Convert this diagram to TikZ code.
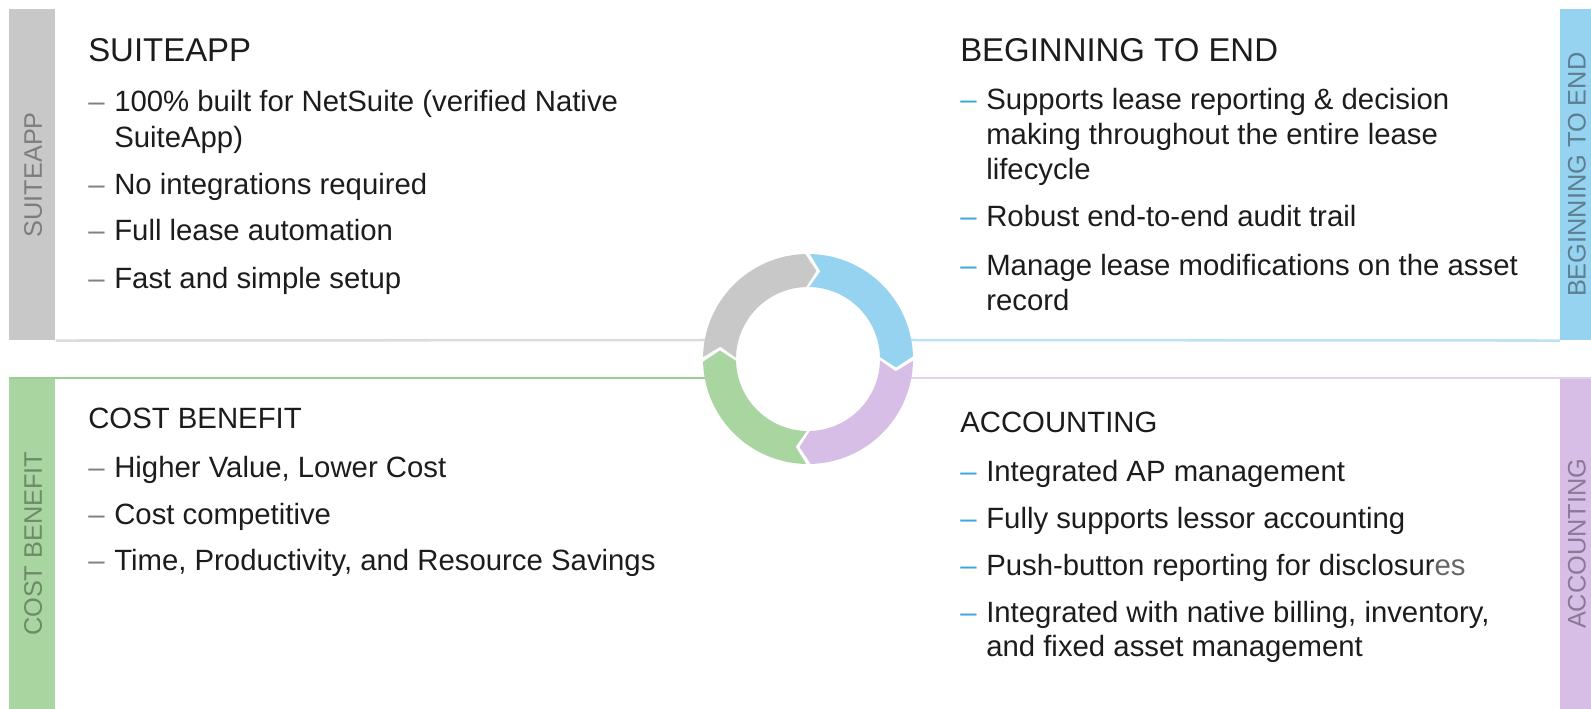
\documentclass[tikz,border=0pt]{standalone}
\usepackage{fontspec}
\setmainfont{Liberation Sans}
\definecolor{cgray}{HTML}{C8C8C8}
\definecolor{cblue}{HTML}{96D3F0}
\definecolor{cgreen}{HTML}{A9D5A1}
\definecolor{cpurple}{HTML}{D7BEE6}
\definecolor{lgray}{HTML}{DCDCDC}
\definecolor{lblue}{HTML}{BEE2F4}
\definecolor{lgreen}{HTML}{9CCD92}
\definecolor{lpurple}{HTML}{E3D1EB}
\definecolor{txt}{HTML}{1C1C1C}
\definecolor{fade}{HTML}{666666}
\definecolor{dashgray}{HTML}{808080}
\definecolor{dashblue}{HTML}{39A6DC}
\definecolor{tgray}{HTML}{7D7D7D}
\definecolor{tblue}{HTML}{5C7F92}
\definecolor{tgreen}{HTML}{6C8C67}
\definecolor{tpurple}{HTML}{8A7A98}
\newcommand{\mylines}[1]{\parbox[t]{560pt}{#1}}
\begin{document}
\begin{tikzpicture}[x=0.75pt,y=-0.75pt,
  bar/.style={anchor=north west, inner sep=0pt, minimum width=34.5pt, minimum height=248.25pt},
  barlabel/.style={rotate=90, inner sep=0pt, font=\fontsize{19}{22}\selectfont},
  headbig/.style={anchor=base west, inner sep=0pt, text=txt, font=\fontsize{24.7}{28}\selectfont},
  headsmall/.style={anchor=base west, inner sep=0pt, text=txt, font=\fontsize{22}{26}\selectfont},
  item/.style={anchor=base west, inner sep=0pt, text=txt, font=\fontsize{22}{26}\selectfont},
  dashL/.style={anchor=base west, inner sep=0pt, text=dashgray, font=\fontsize{22}{26}\selectfont},
  dashR/.style={anchor=base west, inner sep=0pt, text=dashblue, font=\fontsize{22}{26}\selectfont},
  sepline/.style={line width=1.9pt}
]
\useasboundingbox (0,0) rectangle (1591,709);
\clip (0,0) rectangle (1591,709);

% side bars
\node[bar, fill=cgray] (barSA) at (9,9) {};
\node[bar, fill=cblue] (barBE) at (1560,9) {};
\node[bar, fill=cgreen] (barCB) at (9,378) {};
\node[bar, fill=cpurple] (barAC) at (1560,378) {};
\node[barlabel, text=tgray] (labSA) at ([xshift=0.75pt]barSA.center) {SUITEAPP};
\node[barlabel, text=tblue] (labBE) at ([xshift=-4.8pt]barBE.center) {BEGINNING TO END};
\node[barlabel, text=tgreen] (labCB) at ([xshift=0.75pt]barCB.center) {COST BENEFIT};
\node[barlabel, text=tpurple] (labAC) at ([xshift=-4.8pt]barAC.center) {ACCOUNTING};

% separator lines
\coordinate (C) at (808,359);
\coordinate (gL) at (720,340);
\coordinate (bR) at (896,340);
\coordinate (grL) at (720,378);
\coordinate (pR) at (896,378);
\draw[sepline, lgray] (barSA.south east) -- (gL);
\draw[sepline, lblue] (bR) -- (barBE.south west);
\draw[sepline, lgreen] (barCB.north west) -- (grL);
\draw[sepline, lpurple] (pR) -- (barAC.north east);

% cycle ring
\begin{scope}[shift={(C)}]
\foreach \a/\c in {181.5/cgray, 91.5/cblue, 1.5/cpurple, -88.5/cgreen}{
  \pgfmathsetmacro\s{\a-2.5}
  \pgfmathsetmacro\e{\a-90}
  \pgfmathsetmacro\t{\a-97}
  \pgfmathsetmacro\n{\a-9.5}
  \fill[\c] (\s:78.75pt) arc[start angle=\s, end angle=\e, radius=78.75pt]
     -- (\t:66.4pt) -- (\e:54pt)
     arc[start angle=\e, end angle=\s, radius=54pt]
     -- (\n:66.4pt) -- cycle;
}
\end{scope}

% SUITEAPP panel
\node[headbig] (hSA) at (88,62) {SUITEAPP};
\node[dashL] (dSA1) at (88,112) {\textendash};
\node[item, font=\fontsize{22}{27}\selectfont] (SA1) at (114,112) {\mylines{100\% built for NetSuite (verified Native\\SuiteApp)}};
\node[dashL] (dSA2) at (88,195) {\textendash};
\node[item] (SA2) at (114,195) {No integrations required};
\node[dashL] (dSA3) at (88,241) {\textendash};
\node[item] (SA3) at (114,241) {Full lease automation};
\node[dashL] (dSA4) at (88,288) {\textendash};
\node[item] (SA4) at (114,288) {Fast and simple setup};

% BEGINNING TO END panel
\node[headbig] (hBE) at (960,62) {BEGINNING TO END};
\node[dashR] (dBE1) at (960,110) {\textendash};
\node[item] (BE1) at (986,110) {\mylines{Supports lease reporting \& decision\\making throughout the entire lease\\lifecycle}};
\node[dashR] (dBE2) at (960,227) {\textendash};
\node[item] (BE2) at (986,227) {Robust end-to-end audit trail};
\node[dashR] (dBE3) at (960,276) {\textendash};
\node[item] (BE3) at (986,276) {\mylines{Manage lease modifications on the asset\\record}};

% COST BENEFIT panel
\node[headsmall] (hCB) at (88,428) {COST BENEFIT};
\node[dashL] (dCB1) at (88,477) {\textendash};
\node[item] (CB1) at (114,477) {Higher Value, Lower Cost};
\node[dashL] (dCB2) at (88,524) {\textendash};
\node[item] (CB2) at (114,524) {Cost competitive};
\node[dashL] (dCB3) at (88,570) {\textendash};
\node[item] (CB3) at (114,570) {Time, Productivity, and Resource Savings};

% ACCOUNTING panel
\node[headsmall] (hAC) at (960,432) {ACCOUNTING};
\node[dashR] (dAC1) at (960,481) {\textendash};
\node[item] (AC1) at (986,481) {Integrated AP management};
\node[dashR] (dAC2) at (960,528) {\textendash};
\node[item] (AC2) at (986,528) {Fully supports lessor accounting};
\node[dashR] (dAC3) at (960,575) {\textendash};
\node[item] (AC3) at (986,575) {Push-button reporting for disclosur{\color{fade}es}};
\node[dashR] (dAC4) at (960,622) {\textendash};
\node[item] (AC4) at (986,622) {\mylines{Integrated with native billing, inventory,\\and fixed asset management}};
\end{tikzpicture}
\end{document}
